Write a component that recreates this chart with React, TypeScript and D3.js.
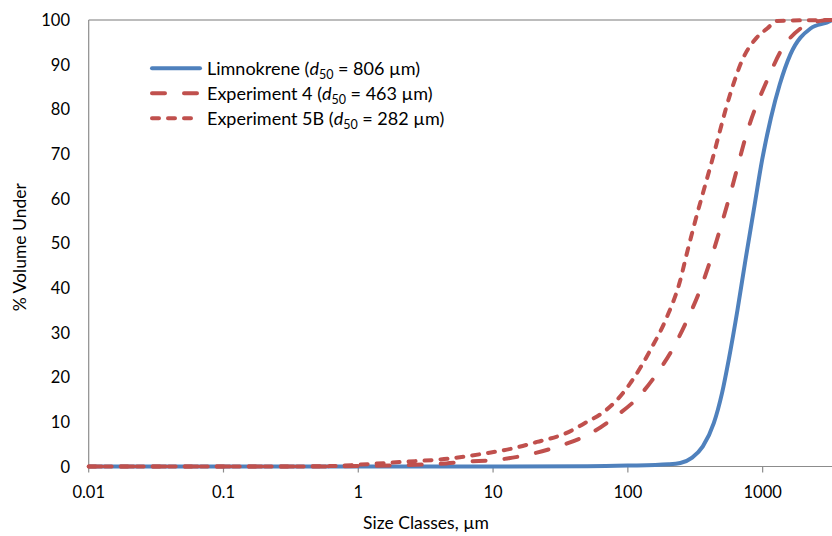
import React from "react";
import * as d3 from "d3";

const limnoX = [0.01, 1, 10, 50, 100, 200, 245, 300, 360, 434, 500, 560, 650, 745, 860, 990, 1150, 1340, 1607, 2264, 3190, 3268];
const limnoY = [0, 0, 0, 0.05, 0.2, 0.5, 0.8, 2.0, 4.5, 9.7, 16.5, 23.9, 35.0, 46.2, 57.5, 68.6, 78.0, 85.6, 92.3, 98.1, 99.8, 100];

const exp4X = [0.01, 0.5, 1, 2, 4, 6.4, 10.7, 17.9, 29.8, 52.7, 81, 120, 165, 213, 275, 336, 410, 577, 789, 1109, 1355, 1909, 2687, 3268];
const exp4Y = [0, 0, 0.1, 0.3, 0.6, 1.1, 1.5, 2.6, 4.4, 7.4, 11.2, 15.6, 20.9, 26.1, 32.8, 38.8, 46.2, 61.2, 76.1, 87.3, 92.9, 98.1, 99.8, 100];

const exp5X = [0.01, 0.3, 0.65, 1, 2.05, 4.81, 9.0, 14.2, 21.2, 34.4, 49.8, 64, 83, 104, 147, 195, 241, 278, 308, 422, 577, 705, 900, 1080, 1282, 3268];
const exp5Y = [0, 0, 0.1, 0.4, 1.0, 1.8, 3.0, 4.1, 5.5, 7.4, 10.0, 11.9, 14.9, 18.6, 26.1, 33.5, 41.0, 48.5, 53.7, 68.6, 83.6, 91.0, 96.0, 98.1, 99.8, 100];

const xTicks = [0.01, 0.1, 1, 10, 100, 1000];
const xTickLabels = ["0.01", "0.1", "1", "10", "100", "1000"];
const yTicks = [0, 10, 20, 30, 40, 50, 60, 70, 80, 90, 100];

const seriesNames = ["Limnokrene", "Experiment 4", "Experiment 5B"];
const seriesD50 = ["806", "463", "282"];

const W = 832, H = 536;
const FONT = "Lato, 'Open Sans', sans-serif";

export default function App() {
  const left = 88.7, right = 832, top = 20, bottom = 466.5;
  const xMax = Math.pow(10, 3 + (right - 762.7) / 134.7);
  const x = d3.scaleLog().domain([0.01, xMax]).range([left, right]);
  const y = d3.scaleLinear().domain([0, 100]).range([bottom, top]);

  const line = d3.line<[number, number]>()
    .x((d) => x(d[0]))
    .y((d) => y(d[1]))
    .curve(d3.curveMonotoneX);

  const series = [
    { xs: limnoX, ys: limnoY, color: "#4F81BD", dash: undefined as string | undefined },
    { xs: exp4X, ys: exp4Y, color: "#C0504D", dash: "13,19" },
    { xs: exp5X, ys: exp5Y, color: "#C0504D", dash: "7,9" },
  ];

  const axisColor = "#8C8C8C";

  return (
    <svg width={W} height={H} style={{ position: "absolute", left: 0, top: 0, background: "#fff" }} fontFamily={FONT}>
      <line x1={left} x2={right} y1={top} y2={top} stroke="#A6A6A6" strokeWidth={1.5} />
      <line x1={left} x2={left} y1={top} y2={bottom} stroke={axisColor} strokeWidth={1.2} />
      <line x1={left} x2={right} y1={bottom} y2={bottom} stroke={axisColor} strokeWidth={1.2} />
      {xTicks.map((t) => (
        <line key={"xt" + t} x1={x(t)} x2={x(t)} y1={bottom} y2={bottom + 6} stroke={axisColor} strokeWidth={1.2} />
      ))}
      {xTicks.map((t, i) => (
        <text key={"xl" + t} x={x(t)} y={498} textAnchor="middle" fontSize={16.5} fill="#000">
          {xTickLabels[i]}
        </text>
      ))}
      {yTicks.map((t) => (
        <text key={"yl" + t} x={70} y={y(t) + 6} textAnchor="end" fontSize={16.5} fill="#000">
          {t}
        </text>
      ))}
      <text x={426} y={529} textAnchor="middle" fontSize={17.5} fill="#000">
        Size Classes, µm
      </text>
      <text transform={`translate(26,${(top + bottom) / 2 + 4}) rotate(-90)`} textAnchor="middle" fontSize={17.5} fill="#000">
        % Volume Under
      </text>

      {series.map((s, i) => (
        <path
          key={"s" + i}
          d={line(s.xs.map((v, j) => [v, s.ys[j]] as [number, number])) || ""}
          fill="none"
          stroke={s.color}
          strokeWidth={4}
          strokeDasharray={s.dash}
          strokeLinecap={s.dash ? "round" : "butt"}
          strokeLinejoin="round"
        />
      ))}

      {series.map((s, i) => {
        const ly = 68.3 + i * 25;
        return (
          <g key={"lg" + i}>
            <line x1={152} x2={200} y1={ly} y2={ly} stroke={s.color} strokeWidth={4}
              strokeDasharray={s.dash} strokeLinecap="round" />
            <text x={207} y={ly + 6.5} fontSize={18} fill="#000">
              {seriesNames[i]} (<tspan fontStyle="italic">d</tspan>
              <tspan fontSize={12.5} dy={4}>50</tspan>
              <tspan dy={-4}> = {seriesD50[i]} µm)</tspan>
            </text>
          </g>
        );
      })}
    </svg>
  );
}
